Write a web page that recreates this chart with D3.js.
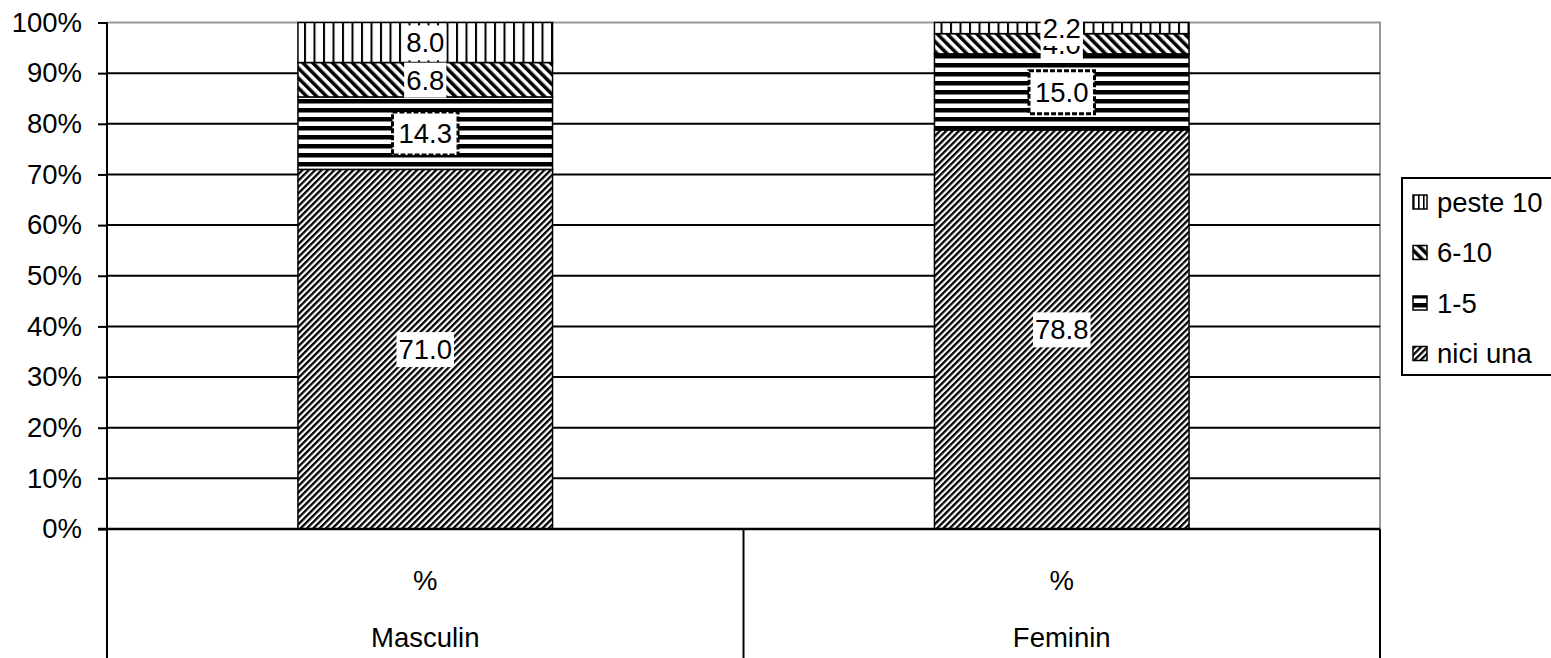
<!DOCTYPE html>
<html>
<head>
<meta charset="utf-8">
<script src="https://cdn.jsdelivr.net/npm/d3@7"></script>
<style>
body { margin:0; background:#fff; }
text { font-family: "Liberation Sans", Arial, sans-serif; }
</style>
</head>
<body>
<svg id="chart" width="1551" height="658"></svg>
<script>
// data
var categories = ['Masculin', 'Feminin'];
var subLabel = '%';
var series = ['nici una', '1-5', '6-10', 'peste 10'];
var niciUna = [71.0, 78.8];
var unuCinci = [14.3, 15.0];
var saseZece = [6.8, 4.0];
var peste10 = [8.0, 2.2];
var yTicks = [0, 10, 20, 30, 40, 50, 60, 70, 80, 90, 100];

var values = [niciUna, unuCinci, saseZece, peste10];
var patIds = ['patNici', 'patUnu', 'patSase', 'patPeste'];
var FS = 27.5;

var svg = d3.select('#chart');
var plotL = 107, plotR = 1380, plotT = 22.5, plotB = 529;

var x = d3.scaleBand().domain(categories).range([plotL, plotR]).paddingInner(0).paddingOuter(0);
var y = d3.scaleLinear().domain([0, 100]).range([plotB, plotT]);
var barW = x.bandwidth() * 0.4;

// patterns
var defs = svg.append('defs');
function stripePat(id, w, h, rot, rx, ry, rw, rh) {
	var p = defs.append('pattern').attr('id', id)
		.attr('patternUnits', 'userSpaceOnUse')
		.attr('width', w).attr('height', h);
	if (rot) p.attr('patternTransform', 'rotate(' + rot + ')');
	p.append('rect').attr('width', w).attr('height', h).attr('fill', '#fff');
	p.append('rect').attr('x', rx).attr('y', ry).attr('width', rw).attr('height', rh).attr('fill', '#000');
}
stripePat('patNici', 4.5, 10, 45, 0, 0, 2.3, 10);
stripePat('patUnu', 10, 9, 0, 0, 0, 10, 4.5);
stripePat('patSase', 7, 10, -45, 0, 0, 3.5, 10);
stripePat('patPeste', 9.5, 10, 0, 0, 0, 2, 10);
stripePat('patPesteS', 5, 10, 0, 0, 0, 1.6, 10); // legend swatch, finer

// plot border (gray top + right)
svg.append('path')
	.attr('d', 'M' + plotL + ',' + plotT + 'H' + plotR + 'V' + plotB)
	.attr('fill', 'none').attr('stroke', '#999').attr('stroke-width', 2);

// gridlines
svg.append('g').selectAll('line')
	.data(yTicks.filter(function(d){ return d > 0 && d < 100; }))
	.enter().append('line')
	.attr('x1', plotL).attr('x2', plotR)
	.attr('y1', function(d){ return y(d); }).attr('y2', function(d){ return y(d); })
	.attr('stroke', '#000').attr('stroke-width', 2);

// stacked bars
var stacks = [];
categories.forEach(function(c, i) {
	var base = 0;
	values.forEach(function(arr, s) {
		stacks.push({cat: c, s: s, v: arr[i], y0: base, y1: base + arr[i]});
		base += arr[i];
	});
});
stacks.forEach(function(d){ if (d.y1 > 100) d.y1 = 100; });

svg.append('g').selectAll('rect')
	.data(stacks)
	.enter().append('rect')
	.attr('x', function(d){ return x(d.cat) + (x.bandwidth() - barW) / 2; })
	.attr('width', barW)
	.attr('y', function(d){ return y(d.y1); })
	.attr('height', function(d){ return y(d.y0) - y(d.y1); })
	.attr('fill', function(d){ return 'url(#' + patIds[d.s] + ')'; })
	.attr('stroke', '#000').attr('stroke-width', 1.5);

// y axis
var yAxis = d3.axisLeft(y).tickValues(yTicks).tickSize(9).tickPadding(16)
	.tickFormat(function(d){ return d + '%'; });
var ga = svg.append('g').attr('transform', 'translate(' + plotL + ',0)').call(yAxis);
ga.select('.domain').remove();
ga.selectAll('line').attr('stroke', '#000').attr('stroke-width', 2);
ga.selectAll('text').attr('font-size', FS).attr('fill', '#000')
	.style('font-family', '"Liberation Sans", Arial, sans-serif');

// axis lines
svg.append('line').attr('x1', plotL).attr('x2', plotL).attr('y1', plotT).attr('y2', 658)
	.attr('stroke', '#000').attr('stroke-width', 2);
svg.append('line').attr('x1', plotL - 9).attr('x2', plotR).attr('y1', plotB).attr('y2', plotB)
	.attr('stroke', '#000').attr('stroke-width', 2.5);

// category separators (two level axis)
svg.append('g').selectAll('line')
	.data(categories.map(function(c){ return x(c) + x.bandwidth(); }))
	.enter().append('line')
	.attr('x1', function(d){ return d; }).attr('x2', function(d){ return d; })
	.attr('y1', plotB).attr('y2', 658)
	.attr('stroke', '#000').attr('stroke-width', 2);

var cl = svg.append('g').selectAll('g').data(categories).enter().append('g');
cl.append('text')
	.attr('x', function(d){ return x(d) + x.bandwidth() / 2; })
	.attr('y', 590).attr('text-anchor', 'middle').attr('font-size', FS)
	.text(subLabel);
cl.append('text')
	.attr('x', function(d){ return x(d) + x.bandwidth() / 2; })
	.attr('y', 647).attr('text-anchor', 'middle').attr('font-size', FS)
	.text(function(d){ return d; });

// data labels with white boxes
var lab = svg.append('g').selectAll('g')
	.data(stacks)
	.enter().append('g')
	.attr('transform', function(d){
		return 'translate(' + (x(d.cat) + x.bandwidth() / 2) + ',' + y((d.y0 + d.y1) / 2) + ')';
	});
lab.append('text')
	.attr('text-anchor', 'middle').attr('dy', '0.36em').attr('font-size', FS)
	.text(function(d){ return d.v.toFixed(1); })
	.each(function(d){
		var bb = this.getBBox();
		var g = d3.select(this.parentNode);
		if (d.s == 1) { // 1-5 labels show a dark frame around the box
			g.insert('rect', 'text')
				.attr('x', bb.x - 6).attr('y', bb.y - 6)
				.attr('width', bb.width + 12).attr('height', bb.height + 12)
				.attr('fill', '#fff').attr('stroke', '#000').attr('stroke-width', 3)
				.attr('stroke-dasharray', '5,2');
		} else {
			g.insert('rect', 'text')
				.attr('x', bb.x - 2).attr('y', bb.y - 2)
				.attr('width', bb.width + 4).attr('height', bb.height + 4)
				.attr('fill', '#fff');
		}
	});

// legend
var lg = svg.append('g');
lg.append('rect').attr('x', 1402).attr('y', 178).attr('width', 170).attr('height', 197)
	.attr('fill', '#fff').attr('stroke', '#000').attr('stroke-width', 2);
var legItems = series.map(function(s, i){ return {name: s, s: i}; }).reverse();
var li = lg.selectAll('g.item').data(legItems).enter().append('g')
	.attr('transform', function(d, i){ return 'translate(1413,' + (202 + i * 50.5) + ')'; });
li.append('rect').attr('x', 0).attr('y', -7).attr('width', 14).attr('height', 14)
	.attr('fill', function(d){ return 'url(#' + (d.s == 3 ? 'patPesteS' : patIds[d.s]) + ')'; })
	.attr('stroke', '#000').attr('stroke-width', 1.5);
li.append('text').attr('x', 24).attr('dy', '0.36em').attr('font-size', FS)
	.text(function(d){ return d.name; });
</script>
</body>
</html>
